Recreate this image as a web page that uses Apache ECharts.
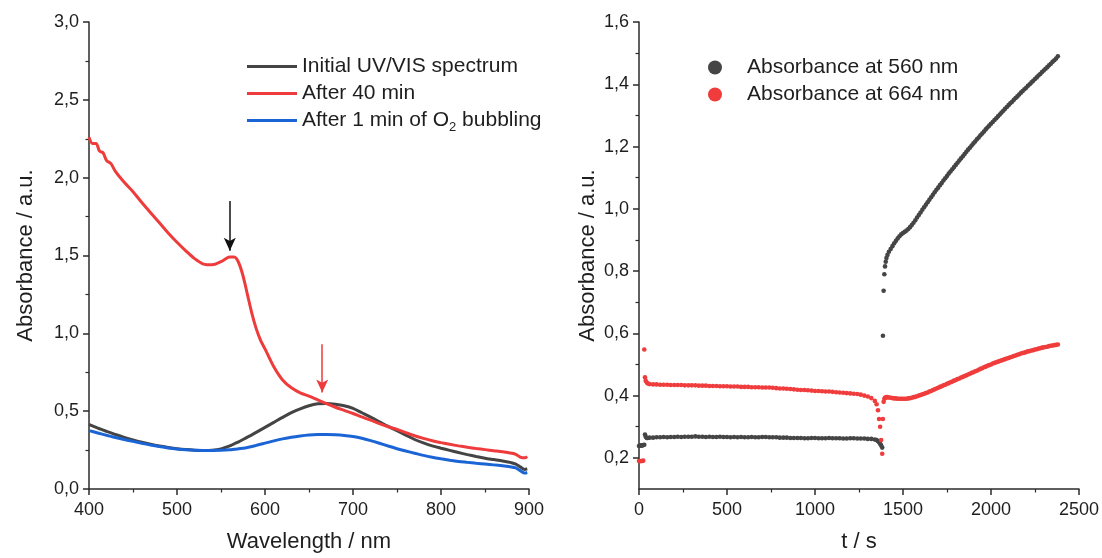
<!DOCTYPE html>
<html>
<head>
<meta charset="utf-8">
<script src="https://cdn.jsdelivr.net/npm/echarts@6/dist/echarts.min.js"></script>
<style>
  html, body { margin: 0; padding: 0; background: #fff; }
  #chart { width: 1102px; height: 558px; }
</style>
</head>
<body>
<div id="chart"></div>
<script>
// UV/VIS spectra (wavelength in nm, absorbance in a.u.)
const wavelengths = [400, 404, 408, 412, 416, 420, 425, 430,
  440, 450, 460, 470, 480, 490, 500, 510, 520, 530, 540, 550, 560,
  565, 570, 575, 580, 585, 590, 595,
  600, 610, 620, 630, 640, 650, 660, 670, 680, 690, 700, 710, 720, 730, 740, 750,
  760, 770, 780, 790, 800, 810, 820, 830, 840, 850, 860, 870, 880,
  885, 890, 895, 898];

const initialSpectrum = [0.415, 0.405, 0.396, 0.387, 0.378, 0.37, 0.36, 0.35,
  0.332, 0.315, 0.3, 0.287, 0.276, 0.267, 0.259, 0.253, 0.249, 0.247, 0.249, 0.258, 0.277,
  0.29, 0.303, 0.318, 0.333, 0.348, 0.364, 0.38,
  0.396, 0.428, 0.46, 0.49, 0.515, 0.535, 0.547, 0.55, 0.545, 0.535, 0.518, 0.49, 0.462, 0.432, 0.402, 0.374,
  0.346, 0.318, 0.296, 0.277, 0.262, 0.248, 0.234, 0.221, 0.209, 0.198, 0.189, 0.18, 0.169,
  0.16, 0.142, 0.126, 0.13];

const after40min = [2.26, 2.22, 2.22, 2.17, 2.16, 2.11, 2.09, 2.04,
  1.97, 1.91, 1.84, 1.775, 1.71, 1.645, 1.585, 1.53, 1.48, 1.445, 1.44, 1.46, 1.49,
  1.49, 1.455, 1.37, 1.25, 1.13, 1.03, 0.955,
  0.9, 0.785, 0.7, 0.65, 0.618, 0.597, 0.573, 0.548, 0.525, 0.505, 0.485, 0.463, 0.442, 0.42, 0.4, 0.383,
  0.362, 0.342, 0.325, 0.31, 0.298, 0.287, 0.277, 0.268, 0.26, 0.253, 0.246, 0.239, 0.23,
  0.223, 0.205, 0.2, 0.208];

const afterO2 = [0.375, 0.369, 0.363, 0.357, 0.351, 0.345, 0.338, 0.331,
  0.318, 0.306, 0.294, 0.283, 0.273, 0.264, 0.257, 0.252, 0.249, 0.248, 0.248, 0.249, 0.252,
  0.255, 0.258, 0.262, 0.267, 0.273, 0.28, 0.287,
  0.295, 0.309, 0.322, 0.333, 0.341, 0.347, 0.35, 0.35, 0.348, 0.344, 0.337, 0.326, 0.311, 0.294, 0.276, 0.259,
  0.244, 0.23, 0.216, 0.204, 0.194, 0.185, 0.177, 0.171, 0.165, 0.16, 0.155, 0.149, 0.142,
  0.135, 0.118, 0.102, 0.106];

const spectrumNames = ['Initial UV/VIS spectrum', 'After 40 min', 'After 1 min of O2 bubbling'];
const spectrumColors = ['#444444', '#ee3b3b', '#1a64d6'];

// Arrows marking the bands: [wavelength, from absorbance, to absorbance]
const bandArrows = [[560, 1.85, 1.53], [665, 0.93, 0.62]];
const arrowColors = ['#111111', '#ee3b3b'];

// Kinetics: absorbance at 560 nm and 664 nm vs time (s)
const timeS = [0, 6, 12, 18, 24, 30, 34, 38, 44, 50, 60,
  80, 100, 120, 140, 160, 180, 200, 220, 240, 260,
  280, 300, 320, 340, 360, 380, 400, 420, 440, 460,
  480, 500, 520, 540, 560, 580, 600, 620, 640, 660,
  680, 700, 720, 740, 760, 780, 800, 820, 840, 860,
  880, 900, 920, 940, 960, 980, 1000, 1020, 1040, 1060,
  1080, 1100, 1120, 1140, 1160, 1180, 1200, 1220, 1240, 1260,
  1280, 1300, 1320, 1340,
  1350, 1358, 1364, 1370, 1376, 1382, 1386, 1390, 1394, 1398, 1402, 1406, 1412,
  1420, 1430, 1440, 1450, 1460, 1470, 1480, 1490, 1500, 1510,
  1520, 1530, 1540, 1550, 1560, 1570, 1580, 1590, 1600, 1610,
  1620, 1630, 1640, 1650, 1660, 1670, 1680, 1690, 1700, 1710,
  1720, 1730, 1740, 1750, 1760, 1770, 1780, 1790, 1800, 1810,
  1820, 1830, 1840, 1850, 1860, 1870, 1880, 1890, 1900, 1910,
  1920, 1930, 1940, 1950, 1960, 1970, 1980, 1990, 2000, 2010,
  2020, 2030, 2040, 2050, 2060, 2070, 2080, 2090, 2100, 2110,
  2120, 2130, 2140, 2150, 2160, 2170, 2180, 2190, 2200, 2210,
  2220, 2230, 2240, 2250, 2260, 2270, 2280, 2290, 2300, 2310,
  2320, 2330, 2340, 2350, 2360, 2370, 2380];

const abs560 = [0.238, 0.24, 0.239, 0.24, 0.241, 0.242, 0.275, 0.268, 0.264, 0.264, 0.265,
  0.265, 0.266, 0.266, 0.267, 0.266, 0.267, 0.267, 0.268, 0.267, 0.268,
  0.268, 0.268, 0.269, 0.268, 0.268, 0.267, 0.268, 0.267, 0.267, 0.268,
  0.267, 0.267, 0.266, 0.267, 0.266, 0.267, 0.266, 0.266, 0.267, 0.266,
  0.266, 0.267, 0.267, 0.266, 0.266, 0.266, 0.265, 0.265, 0.265, 0.264,
  0.264, 0.264, 0.264, 0.263, 0.263, 0.264, 0.264, 0.263, 0.263, 0.263,
  0.264, 0.263, 0.263, 0.263, 0.262, 0.262, 0.263, 0.263, 0.262, 0.262,
  0.262, 0.261, 0.261, 0.259,
  0.257, 0.254, 0.25, 0.245, 0.24, 0.233, 0.592, 0.737, 0.79, 0.815, 0.83, 0.842, 0.852,
  0.862, 0.871, 0.88, 0.889, 0.897, 0.905, 0.912, 0.918, 0.922, 0.926,
  0.93, 0.935, 0.941, 0.948, 0.955, 0.963, 0.972, 0.98, 0.988, 0.997,
  1.005, 1.013, 1.021, 1.029, 1.037, 1.045, 1.053, 1.061, 1.068, 1.076,
  1.083, 1.091, 1.098, 1.105, 1.113, 1.12, 1.127, 1.134, 1.141, 1.148,
  1.155, 1.162, 1.169, 1.176, 1.183, 1.19, 1.196, 1.203, 1.21, 1.216,
  1.223, 1.229, 1.236, 1.242, 1.248, 1.255, 1.261, 1.267, 1.273, 1.279,
  1.285, 1.291, 1.297, 1.303, 1.309, 1.315, 1.321, 1.327, 1.333, 1.339,
  1.344, 1.35, 1.356, 1.361, 1.367, 1.373, 1.378, 1.384, 1.389, 1.395,
  1.4, 1.406, 1.411, 1.417, 1.422, 1.428, 1.433, 1.439, 1.444, 1.45,
  1.455, 1.461, 1.466, 1.472, 1.477, 1.483, 1.49];

const abs664 = [0.19, 0.189, 0.19, 0.19, 0.191, 0.548, 0.459, 0.448, 0.442, 0.439, 0.437,
  0.436, 0.436, 0.435, 0.435, 0.435, 0.434, 0.434, 0.434, 0.434, 0.433,
  0.433, 0.433, 0.433, 0.432, 0.432, 0.432, 0.431, 0.431, 0.431, 0.43,
  0.43, 0.43, 0.429, 0.429, 0.429, 0.428, 0.428, 0.428, 0.427, 0.427,
  0.427, 0.426, 0.426, 0.426, 0.425, 0.424, 0.423, 0.423, 0.422, 0.421,
  0.42, 0.419, 0.418, 0.418, 0.417, 0.416, 0.415, 0.415, 0.414, 0.413,
  0.413, 0.412, 0.411, 0.41, 0.409, 0.408, 0.407, 0.406, 0.405, 0.403,
  0.4, 0.397, 0.392, 0.383,
  0.372, 0.353, 0.325, 0.3, 0.257, 0.213, 0.325, 0.38, 0.39, 0.393, 0.394, 0.395, 0.395,
  0.394, 0.393, 0.392, 0.391, 0.391, 0.39, 0.39, 0.39, 0.39, 0.39,
  0.39, 0.391, 0.392, 0.393, 0.395, 0.396, 0.398, 0.4, 0.402, 0.404,
  0.406, 0.408, 0.41, 0.413, 0.415, 0.418, 0.42, 0.423, 0.425, 0.428,
  0.43, 0.433, 0.435, 0.438, 0.44, 0.443, 0.445, 0.448, 0.45, 0.453,
  0.455, 0.458, 0.46, 0.463, 0.465, 0.468, 0.47, 0.473, 0.475, 0.478,
  0.48, 0.483, 0.486, 0.488, 0.491, 0.493, 0.496, 0.498, 0.5, 0.503,
  0.505, 0.507, 0.509, 0.511, 0.513, 0.515, 0.517, 0.519, 0.521, 0.523,
  0.525, 0.527, 0.529, 0.531, 0.533, 0.535, 0.537, 0.538, 0.54, 0.542,
  0.543, 0.545, 0.546, 0.548, 0.549, 0.551, 0.552, 0.554, 0.555, 0.556,
  0.557, 0.559, 0.56, 0.561, 0.562, 0.563, 0.564];

const kineticsNames = ['Absorbance at 560 nm', 'Absorbance at 664 nm'];
const kineticsColors = ['#454545', '#f03c3c'];

const rightMajorTicks = [0.2, 0.4, 0.6, 0.8, 1.0, 1.2, 1.4, 1.6];
const rightMinorTicks = [0.3, 0.5, 0.7, 0.9, 1.1, 1.3, 1.5];

const FONT = '"Liberation Sans", Arial, sans-serif';
const INK = '#1e1e1e';
const AXIS = '#2b2b2b';
const comma1 = v => v.toFixed(1).replace('.', ',');
const plain = v => String(v);

function baseAxis(extra) {
  return Object.assign({
    axisLine: { show: true, onZero: false, lineStyle: { color: AXIS, width: 1.5 } },
    axisTick: { show: true, inside: false, length: 6, lineStyle: { color: AXIS, width: 1.5 } },
    minorTick: { show: true, splitNumber: 2, length: 3.5, lineStyle: { color: AXIS, width: 1.2 } },
    splitLine: { show: false },
    minorSplitLine: { show: false },
    nameLocation: 'middle',
    nameTextStyle: { color: INK, fontSize: 22, fontFamily: FONT }
  }, extra);
}

const chart = echarts.init(document.getElementById('chart'), null, { renderer: 'canvas' });

const spectrumSeries = spectrumNames.map((name, k) => ({
  name,
  type: 'line',
  xAxisIndex: 0,
  yAxisIndex: 0,
  data: wavelengths.map((w, i) => [w, [initialSpectrum, after40min, afterO2][k][i]]),
  showSymbol: false,
  smooth: 0.3,
  lineStyle: { width: 3, color: spectrumColors[k] },
  itemStyle: { color: spectrumColors[k] },
  z: 3 + k
}));

// Band arrows drawn as mark lines on the spectrum axes
spectrumSeries[1].markLine = {
  silent: true,
  animation: false,
  symbol: ['none', 'arrow'],
  symbolSize: [9, 13],
  label: { show: false },
  emphasis: { disabled: true },
  data: bandArrows.map((a, i) => [
    { coord: [a[0], a[1]], lineStyle: { color: arrowColors[i], width: 1.5, type: 'solid' }, itemStyle: { color: arrowColors[i] } },
    { coord: [a[0], a[2]] }
  ])
};

const kineticsSeries = kineticsNames.map((name, k) => ({
  name,
  type: 'scatter',
  xAxisIndex: 1,
  yAxisIndex: 1,
  data: timeS.map((t, i) => [t, [abs560, abs664][k][i]]),
  symbol: 'circle',
  symbolSize: 4.6,
  itemStyle: { color: kineticsColors[k], opacity: 1 },
  z: 3 + k
}));

chart.setOption({
  animation: false,
  backgroundColor: '#ffffff',
  textStyle: { fontFamily: FONT },
  grid: [
    { left: 89, right: 573, top: 22, bottom: 66, containLabel: false },
    { left: 639, right: 23, top: 22, bottom: 66, containLabel: false }
  ],
  legend: [
    {
      data: spectrumNames,
      left: 247,
      top: 53,
      padding: 0,
      orient: 'vertical',
      icon: 'rect',
      itemWidth: 50,
      itemHeight: 3,
      itemGap: 0,
      selectedMode: false,
      formatter: n => n.replace('O2', 'O{sub|2}'),
      textStyle: {
        color: INK, fontSize: 21, fontFamily: FONT, lineHeight: 27,
        rich: { sub: { fontSize: 13, lineHeight: 15, verticalAlign: 'bottom', color: INK, fontFamily: FONT } }
      }
    },
    {
      data: kineticsNames,
      left: 708,
      top: 54,
      padding: 0,
      orient: 'vertical',
      icon: 'circle',
      itemWidth: 14,
      itemHeight: 14,
      itemGap: 0,
      selectedMode: false,
      textStyle: { color: INK, fontSize: 21, fontFamily: FONT, lineHeight: 27, padding: [0, 0, 0, 20] }
    }
  ],
  xAxis: [
    baseAxis({
      gridIndex: 0, type: 'value', min: 400, max: 900, interval: 100,
      name: 'Wavelength / nm', nameGap: 42,
      axisLabel: { color: INK, fontSize: 18, fontFamily: FONT, margin: 12, formatter: plain }
    }),
    baseAxis({
      gridIndex: 1, type: 'value', min: 0, max: 2500, interval: 500,
      name: 't / s', nameGap: 42,
      axisLabel: { color: INK, fontSize: 18, fontFamily: FONT, margin: 12, formatter: plain }
    })
  ],
  yAxis: [
    baseAxis({
      gridIndex: 0, type: 'value', min: 0, max: 3, interval: 0.5,
      name: 'Absorbance / a.u.', nameGap: 52,
      axisLabel: { color: INK, fontSize: 18, fontFamily: FONT, margin: 10, formatter: comma1 }
    }),
    baseAxis({
      gridIndex: 1, type: 'value', min: 0.1, max: 1.6,
      name: 'Absorbance / a.u.', nameGap: 40,
      minorTick: { show: false },
      axisTick: { show: true, inside: false, length: 6, customValues: rightMajorTicks, lineStyle: { color: AXIS, width: 1.5 } },
      axisLabel: { color: INK, fontSize: 18, fontFamily: FONT, margin: 10, customValues: rightMajorTicks, formatter: comma1 }
    }),
    {
      // minor ticks of the kinetics absorbance axis
      gridIndex: 1, type: 'value', min: 0.1, max: 1.6, position: 'left', offset: 0,
      axisLine: { show: false },
      axisLabel: { show: false },
      splitLine: { show: false },
      axisTick: { show: true, inside: false, length: 3.5, customValues: rightMinorTicks, lineStyle: { color: AXIS, width: 1.2 } }
    }
  ],
  series: spectrumSeries.concat(kineticsSeries)
});
</script>
</body>
</html>
